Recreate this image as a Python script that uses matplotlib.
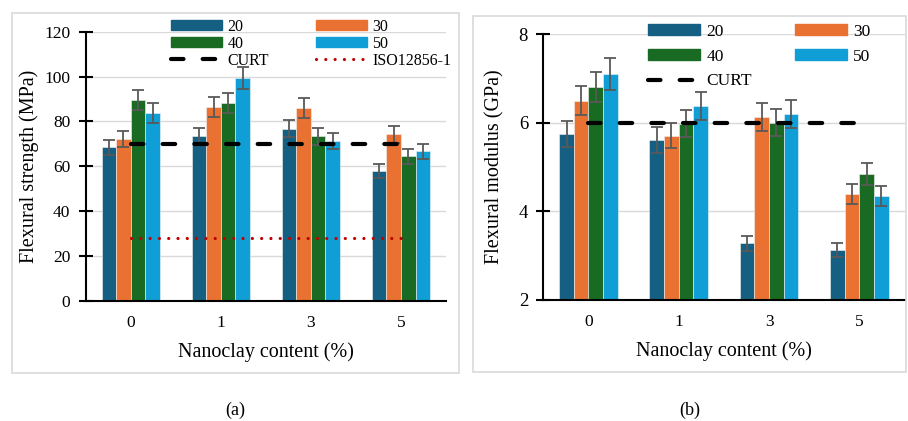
import matplotlib
matplotlib.use("Agg")
import matplotlib.pyplot as plt
import numpy as np
from matplotlib.patches import Rectangle, Patch
from matplotlib.lines import Line2D

plt.rcParams['font.family'] = ['Liberation Serif', 'DejaVu Serif']

categories = ["0", "1", "3", "5"]
series = ["20", "30", "40", "50"]
colors = ["#156082", "#E97132", "#196B24", "#0F9ED5"]

strength_20 = [68.5, 73.4, 76.8, 57.9]
strength_30 = [72.0, 86.4, 86.0, 74.3]
strength_40 = [89.7, 88.1, 73.5, 64.5]
strength_50 = [83.8, 99.2, 71.3, 66.7]
strength_err_20 = [3.4, 3.9, 3.9, 3.0]
strength_err_30 = [3.6, 4.3, 4.3, 3.9]
strength_err_40 = [4.5, 4.5, 3.8, 3.4]
strength_err_50 = [4.3, 4.9, 3.6, 3.4]
strength_curt = 70
strength_iso = 28

modulus_20 = [5.75, 5.61, 3.28, 3.12]
modulus_30 = [6.50, 5.71, 6.13, 4.39]
modulus_40 = [6.81, 5.98, 6.00, 4.84]
modulus_50 = [7.10, 6.38, 6.20, 4.35]
modulus_err_20 = [0.29, 0.29, 0.17, 0.16]
modulus_err_30 = [0.33, 0.29, 0.31, 0.23]
modulus_err_40 = [0.34, 0.31, 0.31, 0.25]
modulus_err_50 = [0.36, 0.32, 0.32, 0.23]
modulus_curt = 6

W, H = 908, 421
fig = plt.figure(figsize=(W / 100, H / 100), dpi=100)

def fx(px):
    return px / W

def fy(py):
    return 1 - py / H

# panel frames
fig.patches.append(Rectangle((fx(12), fy(373)), fx(459) - fx(12), fy(13) - fy(373),
                             transform=fig.transFigure, fill=False, edgecolor="#D9D9D9", lw=1.2))
fig.patches.append(Rectangle((fx(473), fy(372)), fx(906) - fx(473), fy(16) - fy(372),
                             transform=fig.transFigure, fill=False, edgecolor="#D9D9D9", lw=1.2))

def draw_panel(ax, vals, errs, ylim, yticks, ylabel, tick_fs, ylabelpad):
    x = np.arange(len(categories))
    bw = 0.162
    for i, (v, e) in enumerate(zip(vals, errs)):
        pos = x + (i - 1.5) * bw
        ax.bar(pos, np.array(v) - ylim[0], bottom=ylim[0], width=bw, color=colors[i],
               edgecolor="#F2F2F2", linewidth=0.4, zorder=2)
        ax.errorbar(pos, v, yerr=e, fmt="none", ecolor="#595959", elinewidth=1.3,
                    capsize=4.2, capthick=1.3, zorder=3)
    ax.set_xlim(-0.5, 3.5)
    ax.set_ylim(*ylim)
    ax.set_yticks(yticks)
    ax.set_xticks(x)
    ax.set_xticklabels(categories)
    for s in ["top", "right"]:
        ax.spines[s].set_visible(False)
    ax.spines["left"].set_linewidth(1.5)
    ax.spines["bottom"].set_linewidth(1.5)
    ax.grid(axis="y", color="#D9D9D9", lw=1.0, zorder=0)
    ax.set_axisbelow(True)
    ax.tick_params(axis="y", direction="inout", length=10, width=1.5, labelsize=tick_fs, pad=6)
    ax.tick_params(axis="x", length=0, labelsize=12.5, pad=10)
    ax.set_xlabel("Nanoclay content (%)", fontsize=14.5, labelpad=8)
    ax.set_ylabel(ylabel, fontsize=14.5, labelpad=ylabelpad)

dash_pat = (3, 4.6)
dot_pat = (0.01, 2.9)

# ---- panel (a)
ax1 = fig.add_axes([fx(85.7), fy(301), fx(446) - fx(85.7), fy(31.7) - fy(301)])
draw_panel(ax1, [strength_20, strength_30, strength_40, strength_50],
           [strength_err_20, strength_err_30, strength_err_40, strength_err_50],
           (0, 120), np.arange(0, 121, 20), "Flexural strength (MPa)", 12.5, 4)
xl = np.arange(len(categories))
ax1.plot(xl, [strength_curt] * len(xl), color="black", lw=3, dashes=dash_pat,
         dash_capstyle="round", zorder=4)
ax1.plot(xl, [strength_iso] * len(xl), color="#C00000", lw=2.3, dashes=dot_pat,
         dash_capstyle="round", zorder=4)

h = [Patch(color=c) for c in colors]
hl1 = [h[0], h[2], Line2D([], [], color="black", lw=3, dashes=dash_pat, dash_capstyle="round"),
       h[1], h[3], Line2D([], [], color="#C00000", lw=2.3, dashes=dot_pat, dash_capstyle="round")]
ll1 = ["20", "40", "CURT", "30", "50", "ISO12856-1"]
ax1.legend(hl1, ll1, ncol=2, loc="upper left", bbox_to_anchor=(fx(171), fy(19)),
           bbox_transform=fig.transFigure, frameon=False, fontsize=11.5, handlelength=3.2,
           handleheight=0.6, handletextpad=0.35, columnspacing=2.9, labelspacing=0.05,
           borderpad=0, borderaxespad=0)

# ---- panel (b)
ax2 = fig.add_axes([fx(543.3), fy(300), fx(904.5) - fx(543.3), fy(34) - fy(300)])
draw_panel(ax2, [modulus_20, modulus_30, modulus_40, modulus_50],
           [modulus_err_20, modulus_err_30, modulus_err_40, modulus_err_50],
           (2, 8), np.arange(2, 9, 2), "Flexural modulus (GPa)", 13.5, 10)
ax2.plot(xl, [modulus_curt] * len(xl), color="black", lw=3, dashes=dash_pat,
         dash_capstyle="round", zorder=4)
hl2 = [h[0], h[2], Line2D([], [], color="black", lw=3, dashes=dash_pat, dash_capstyle="round"),
       h[1], h[3]]
ll2 = ["20", "40", "CURT", "30", "50"]
ax2.legend(hl2, ll2, ncol=2, loc="upper left", bbox_to_anchor=(fx(648), fy(24)),
           bbox_transform=fig.transFigure, frameon=False, fontsize=12.5, handlelength=3.0,
           handleheight=0.6, handletextpad=0.35, columnspacing=2.5, labelspacing=0.5,
           borderpad=0, borderaxespad=0)

fig.text(fx(235), fy(410), "(a)", ha="center", va="center", fontsize=13)
fig.text(fx(690), fy(410), "(b)", ha="center", va="center", fontsize=13)

fig.savefig("out.png", dpi=100)
